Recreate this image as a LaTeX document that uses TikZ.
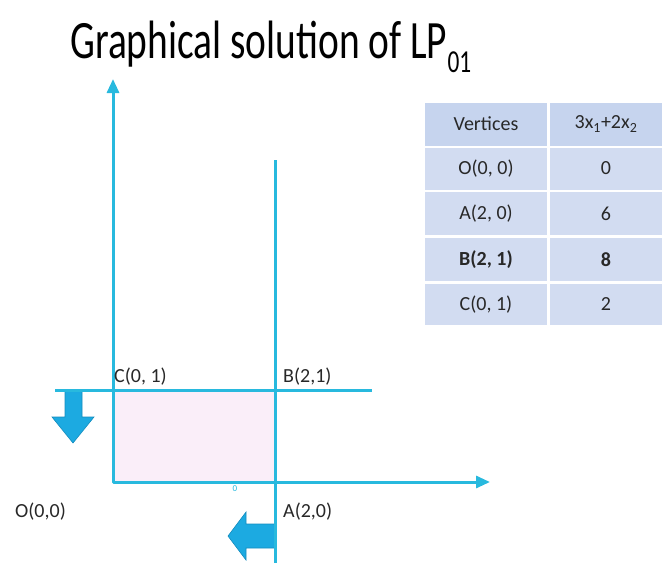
\documentclass[tikz,border=0pt]{standalone}
\usepackage{fontspec}
\setmainfont{Carlito}
\usetikzlibrary{arrows.meta}
\definecolor{lineblue}{RGB}{40,185,222}
\definecolor{arrowblue}{RGB}{28,170,225}
\definecolor{arrowedge}{RGB}{20,140,190}
\definecolor{cellblue}{RGB}{210,220,241}
\definecolor{headblue}{RGB}{198,212,238}
\definecolor{regionpink}{RGB}{250,238,249}
\definecolor{txt}{RGB}{40,40,40}
\tikzset{
  lineseg/.style={draw=lineblue, line width=3pt},
  blockarrow/.style={fill=arrowblue, draw=arrowedge, line width=0.6pt, line join=miter},
  ptlabel/.style={font=\fontsize{20}{22}\selectfont, text=txt, inner sep=0pt},
  cell/.style={fill=cellblue, text=txt, font=\fontsize{20}{22}\selectfont, inner sep=0pt, anchor=center},
  hcell/.style={cell, fill=headblue},
  c1/.style={minimum width=122pt},
  c2/.style={minimum width=112pt},
}
\begin{document}
\begin{tikzpicture}[x=1pt,y=-1pt]
\useasboundingbox (0,0) rectangle (662,563);

% title
\node[anchor=base west, inner sep=0pt, text=black, font=\fontsize{54}{60}\selectfont] (title) at (70,58)
  {\scalebox{0.73}[1]{Graphical solution of LP{\fontsize{32}{34}\selectfont\raisebox{-14pt}{01}}}};

% feasible region
\fill[regionpink] (113,390) rectangle (275,482);

% coordinates
\coordinate (O) at (113,482);
\coordinate (Ytop) at (113,79);
\coordinate (Xend) at (490,482);
\coordinate (Vtop) at (275,160);
\coordinate (Vbot) at (275,563);
\coordinate (Hl) at (55,390);
\coordinate (Hr) at (372,390);

% block arrows
\path[blockarrow] (65,391) -- (82,391) -- (82,417) -- (94,417) -- (73,443) -- (52,417) -- (65,417) -- cycle;
\path[blockarrow] (275,524) -- (246,524) -- (246,512) -- (228,536) -- (246,560) -- (246,548) -- (275,548) -- cycle;

% axes
\draw[lineseg, line join=round, {Triangle[length=14pt,width=12pt]}-{Triangle[length=14pt,width=12pt]}] (Ytop) -- (O) -- (Xend);
% constraint lines
\draw[lineseg] (Vtop) -- (Vbot);
\draw[lineseg] (Hl) -- (Hr);

% small mark
\node[text=lineblue, font=\fontsize{9}{9}\selectfont, inner sep=0pt] (tick) at (235,489) {0};

% point labels
\node[ptlabel, anchor=base west] (Cl) at (114,382) {C(0, 1)};
\node[ptlabel, anchor=base west] (Bl) at (283,382) {B(2,1)};
\node[ptlabel, anchor=base west] (Ol) at (15,517) {O(0,0)};
\node[ptlabel, anchor=base west] (Al) at (283,517) {A(2,0)};

% table
\node[hcell, c1, minimum height=43pt] (h1) at (486,124) {Vertices};
\node[hcell, c2, minimum height=43pt] (h2) at (606,124) {3x\textsubscript{1}+2x\textsubscript{2}};
\node[cell, c1, minimum height=42pt] (r1a) at (486,168.5) {O(0, 0)};
\node[cell, c2, minimum height=42pt] (r1b) at (606,168.5) {0};
\node[cell, c1, minimum height=43pt] (r2a) at (486,213.5) {A(2, 0)};
\node[cell, c2, minimum height=43pt] (r2b) at (606,213.5) {6};
\node[cell, c1, minimum height=43pt, font=\fontsize{20}{22}\selectfont\bfseries] (r3a) at (486,259.5) {B(2, 1)};
\node[cell, c2, minimum height=43pt, font=\fontsize{20}{22}\selectfont\bfseries] (r3b) at (606,259.5) {8};
\node[cell, c1, minimum height=41pt] (r4a) at (486,304.5) {C(0, 1)};
\node[cell, c2, minimum height=41pt] (r4b) at (606,304.5) {2};
\end{tikzpicture}
\end{document}
